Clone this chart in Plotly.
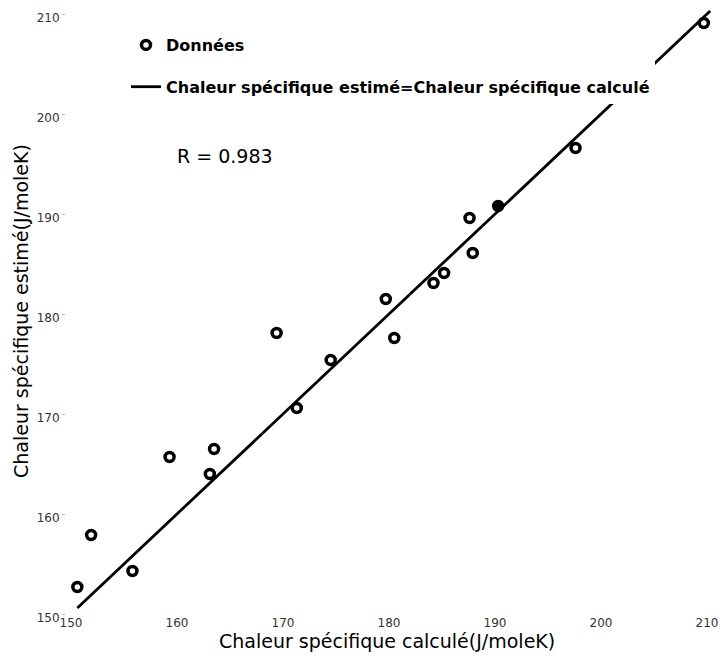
import plotly.graph_objects as go

# Data
chaleur_calcule = [150.6, 151.9, 155.8, 159.3, 163.1, 163.5, 169.4, 171.3, 174.5,
                   179.7, 180.5, 184.2, 185.2, 187.9, 187.6, 190.3, 197.6, 209.7]
chaleur_estime = [152.7, 157.9, 154.3, 165.7, 164.0, 166.5, 178.1, 170.6, 175.4,
                  181.5, 177.6, 183.1, 184.1, 186.1, 189.6, 190.8, 196.6, 209.1]
ligne_xy = [150.6, 210.3]
tick_vals = [150, 160, 170, 180, 190, 200, 210]
tick_text = ["150", "160", "170", "180", "190", "200", "210"]
r_text = "R = 0.983"

FONT = "DejaVu Sans"

# page body has an 8px margin; figure is sized to fit the window
W, H = 718, 651
PLOT_LEFT, PLOT_W = 66, 652      # page coords
PLOT_BOTTOM, PLOT_H = 614, 606   # page coords


def px(xp):
    return (xp - PLOT_LEFT) / PLOT_W


def py(yp):
    return (PLOT_BOTTOM - yp) / PLOT_H


fill = ["black" if abs(x - 190.3) < 0.01 else "white" for x in chaleur_calcule]

fig = go.Figure()
fig.add_trace(go.Scatter(
    x=chaleur_calcule, y=chaleur_estime, mode="markers", name="Données",
    legendgroup="a",
    marker=dict(symbol="circle", size=9, color=fill,
                line=dict(color="black", width=3.5)),
    cliponaxis=False,
))
fig.add_trace(go.Scatter(
    x=ligne_xy, y=ligne_xy, mode="lines",
    name="Chaleur spécifique estimé=Chaleur spécifique calculé",
    legendgroup="b",
    line=dict(color="black", width=2.8),
    cliponaxis=False,
))

fig.update_layout(
    width=W, height=H,
    margin=dict(l=58, r=8, t=0, b=45),
    paper_bgcolor="white", plot_bgcolor="white",
    font=dict(family=FONT, color="black"),
    showlegend=True,
    legend=dict(x=px(126), y=py(28), xanchor="left", yanchor="top",
                bgcolor="white", borderwidth=0, traceorder="grouped",
                tracegroupgap=18,
                font=dict(family=FONT, size=16, color="black", weight="bold")),
    xaxis=dict(range=[149.53, 211.04], tickmode="array", tickvals=tick_vals,
               ticktext=tick_text, showgrid=False, zeroline=False, showline=False,
               ticks="", automargin=False,
               tickfont=dict(family=FONT, size=12, color="#333333")),
    yaxis=dict(range=[150, 210.6], tickmode="array", tickvals=tick_vals,
               ticktext=tick_text, showgrid=False, zeroline=False, showline=False,
               ticks="outside", ticklen=3, tickcolor="#bbbbbb",
               automargin=False, ticklabeloverflow="allow", ticklabelshift=4,
               tickfont=dict(family=FONT, size=12, color="#333333")),
    annotations=[
        dict(text=r_text, xref="paper", yref="paper",
             x=px(175), y=py(156), xanchor="left", yanchor="middle",
             showarrow=False, font=dict(family=FONT, size=19, color="black")),
        dict(text="Chaleur spécifique calculé(J/moleK)", xref="paper", yref="paper",
             x=px(387), y=py(641), xanchor="center", yanchor="middle",
             showarrow=False, font=dict(family=FONT, size=19, color="black")),
        dict(text="Chaleur spécifique estimé(J/moleK)", xref="paper", yref="paper",
             x=px(21), y=py(311), xanchor="center", yanchor="middle",
             textangle=-90, showarrow=False,
             font=dict(family=FONT, size=19, color="black")),
    ],
)

fig.write_html("out.html")
